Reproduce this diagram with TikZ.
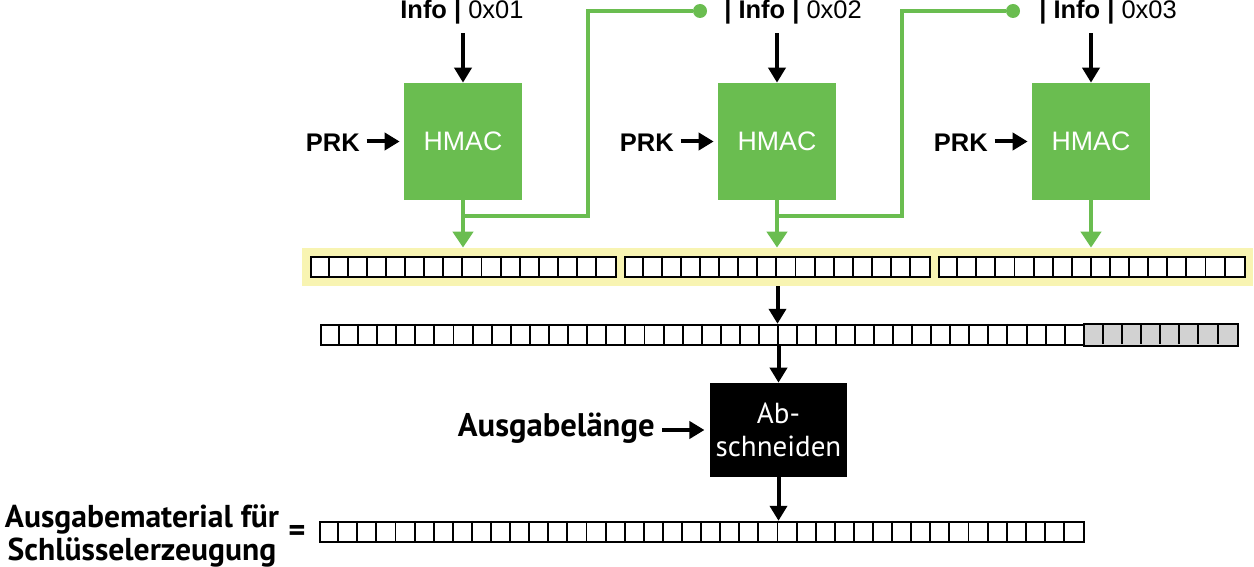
\documentclass[tikz,border=0pt]{standalone}
\usepackage{fontspec}
\setmainfont{Liberation Sans}
\newfontfamily\myriad{PT Sans}
\usetikzlibrary{positioning, arrows.meta, calc}
\definecolor{hmacgruen}{RGB}{106,189,80}
\definecolor{puffergelb}{RGB}{248,244,178}
\definecolor{restgrau}{RGB}{210,210,210}

\begin{document}
\begin{tikzpicture}[x=0.02cm, y=-0.02cm,
    hmac/.style={fill=hmacgruen, minimum width=2.36cm, minimum height=2.34cm,
                 text=white, font=\fontsize{15.2}{17}\selectfont},
    pfeil/.style={-{Triangle[width=0.34cm, length=0.3cm]}, line width=0.08cm},
    gruenpfeil/.style={-{Triangle[width=0.4cm, length=0.32cm]}, line width=0.08cm, hmacgruen},
    gruenlinie/.style={line width=0.08cm, hmacgruen},
    punkt/.style={circle, fill=hmacgruen, inner sep=0pt, minimum size=0.28cm},
    info/.style={anchor=base west, inner sep=0pt, font=\fontsize{14.5}{17}\selectfont},
    prk/.style={anchor=base east, inner sep=0pt, font=\bfseries\fontsize{14.5}{17}\selectfont},
    zeile/.style={draw, fill=white, line width=1.1pt, inner sep=0pt, minimum height=0.41cm},
    zelle/.style={line width=1.1pt},
    beschr/.style={font=\myriad\bfseries\fontsize{18.6}{17.8}\selectfont}]

  \useasboundingbox (0,0) rectangle (1254,567);

  % HMAC-Bloecke mit PRK-Eingang
  \foreach \n/\x in {1/463, 2/777, 3/1091} {
    \node[hmac] (hmac\n) at (\x,141.5) {HMAC};
    \node[prk] (prk\n) at (\x-103,152) {PRK};
    \draw[pfeil, shorten <=0.13cm, shorten >=0.08cm] (hmac\n.west -| prk\n.east) -- (hmac\n.west);
  }

  % Info-Eingaenge
  \node[info] (info1) at (400,19) {\textbf{Info} \textbf{|} 0x01};
  \node[info] (info2) at (724,19) {\textbf{| Info |} 0x02};
  \node[info] (info3) at (1039,19) {\textbf{| Info |} 0x03};
  \foreach \n in {1,2,3}
    \draw[pfeil, shorten <=0.16cm] (hmac\n.north |- info\n.south) -- (hmac\n.north);

  % Rueckfuehrung T(i) -> naechster Block
  \coordinate (knick1) at (588,11);
  \coordinate (knick2) at (902,11);
  \node[punkt] (punkt1) at (700,11) {};
  \node[punkt] (punkt2) at (1013,11) {};
  \draw[gruenlinie] (hmac1.south) -- ++(0,16) -| (knick1) -- (punkt1);
  \draw[gruenlinie] (hmac2.south) -- ++(0,16) -| (knick2) -- (punkt2);

  % Puffer aus drei Bloecken
  \node[fill=puffergelb, minimum width=19.02cm, minimum height=0.76cm, inner sep=0pt] (gelb) at (777.5,267) {};
  \foreach \n/\x in {1/463.3, 2/777.3, 3/1091.8} {
    \node[zeile, minimum width=6.112cm] (block\n) at (\x,267) {};
    \foreach \i in {1,...,15}
      \draw[zelle] ($(block\n.north west)+(19.1*\i,0)$) -- ++(0,20.5);
    \draw[gruenpfeil] (hmac\n.south) -- (hmac\n.south |- gelb.north);
  }

  % Verkettung, Rest grau
  \node[zeile, minimum width=18.336cm] (kette) at (779.1,335) {};
  \filldraw[zelle, fill=restgrau] ($(kette.north west)+(19.1*40,0)$) rectangle (kette.south east);
  \foreach \i in {1,...,47}
    \draw[zelle] ($(kette.north west)+(19.1*\i,0)$) -- ++(0,20.5);
  \draw[pfeil] (gelb.south) -- (gelb.south |- kette.north);

  % Abschneiden
  \node[fill=black, text=white, minimum width=2.66cm, minimum height=1.88cm, align=center,
        font=\myriad\fontsize{16.5}{18.7}\selectfont] (schneiden) at (778.5,430) {Ab-\\schneiden};
  \draw[pfeil] (kette.south -| schneiden.north) -- (schneiden.north);
  \node[beschr, anchor=base east, inner sep=0pt] (laenge) at (655,437) {Ausgabelänge};
  \draw[pfeil, shorten <=0.14cm, shorten >=0.1cm] (schneiden.west -| laenge.east) -- (schneiden.west);

  % Ergebnis
  \node[zeile, minimum width=15.28cm] (ausgabe) at (702,532) {};
  \foreach \i in {1,...,39}
    \draw[zelle] ($(ausgabe.north west)+(19.1*\i,0)$) -- ++(0,20.5);
  \draw[pfeil] (schneiden.south) -- (schneiden.south |- ausgabe.north);
  \node[beschr, align=center, font=\myriad\bfseries\fontsize{18}{18.4}\selectfont] (material) at (142,536) {Ausgabematerial für\\Schlüsselerzeugung};
  \node[beschr] (gleich) at (297,533) {=};
\end{tikzpicture}
\end{document}
